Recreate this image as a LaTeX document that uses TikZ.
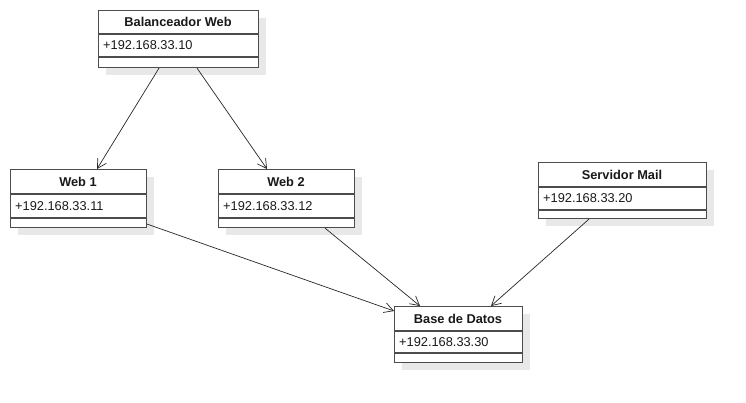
\documentclass[tikz,border=0pt]{standalone}
\usepackage{fontspec}
\setmainfont{Liberation Sans}
\usetikzlibrary{arrows.meta,shadows}
\tikzset{
  classbox/.style={draw=black!70, line width=1.1pt, fill=white, inner sep=0pt, anchor=north west,
    general shadow={shadow xshift=7pt, shadow yshift=-7pt, fill=black!9, draw=none}},
  sepline/.style={draw=black!70, line width=1.1pt},
  classtitle/.style={font=\fontsize{12.8}{14}\selectfont\bfseries, inner sep=0pt, text=black!90},
  classattr/.style={font=\fontsize{12.8}{14}\selectfont, inner sep=0pt, anchor=west, text=black!90},
  dep/.style={draw=black!85, line width=0.7pt, -{Straight Barb[length=9pt,width=10pt,line width=0.7pt]}}
}
\newcommand\mkclass[9]{%
  \node[classbox, minimum width={(#4-#2)*1pt}, minimum height={(#5-#3)*1pt}] (#1) at (#2,#3) {};
  \draw[sepline] (#1.west |- {(0,#6)}) -- (#1.east |- {(0,#6)});
  \draw[sepline] (#1.west |- {(0,#7)}) -- (#1.east |- {(0,#7)});
  \node[classtitle] (#1-t) at ({(#2+#4)/2},{(#3+#6)/2}) {#8};
  \node[classattr] (#1-a) at ({#2+5},{(#6+#7)/2}) {#9};
}
\begin{document}
\begin{tikzpicture}[x=1pt,y=-1pt]
  \useasboundingbox (0,0) rectangle (746,403);
  \mkclass{bal}{98}{10}{258}{67}{34}{57}{Balanceador Web}{+192.168.33.10}
  \mkclass{web1}{10}{169}{146}{227}{194}{218}{Web 1}{+192.168.33.11}
  \mkclass{web2}{218}{169}{354}{227}{194}{218}{Web 2}{+192.168.33.12}
  \mkclass{mail}{538}{162}{706}{218}{187}{210}{Servidor Mail}{+192.168.33.20}
  \mkclass{base}{394}{306}{522}{362}{331}{353}{Base de Datos}{+192.168.33.30}

  \draw[dep] ([xshift=61pt]bal.south west) -- ([xshift=87pt]web1.north west);
  \draw[dep] ([xshift=99pt]bal.south west) -- ([xshift=49pt]web2.north west);
  \draw[dep] ([yshift=4pt]web1.south east) -- ([yshift=-5pt]base.north west);
  \draw[dep] ([xshift=107pt]web2.south west) -- ([xshift=26pt]base.north west);
  \draw[dep] ([xshift=51pt]mail.south west) -- ([xshift=97pt]base.north west);
\end{tikzpicture}
\end{document}
